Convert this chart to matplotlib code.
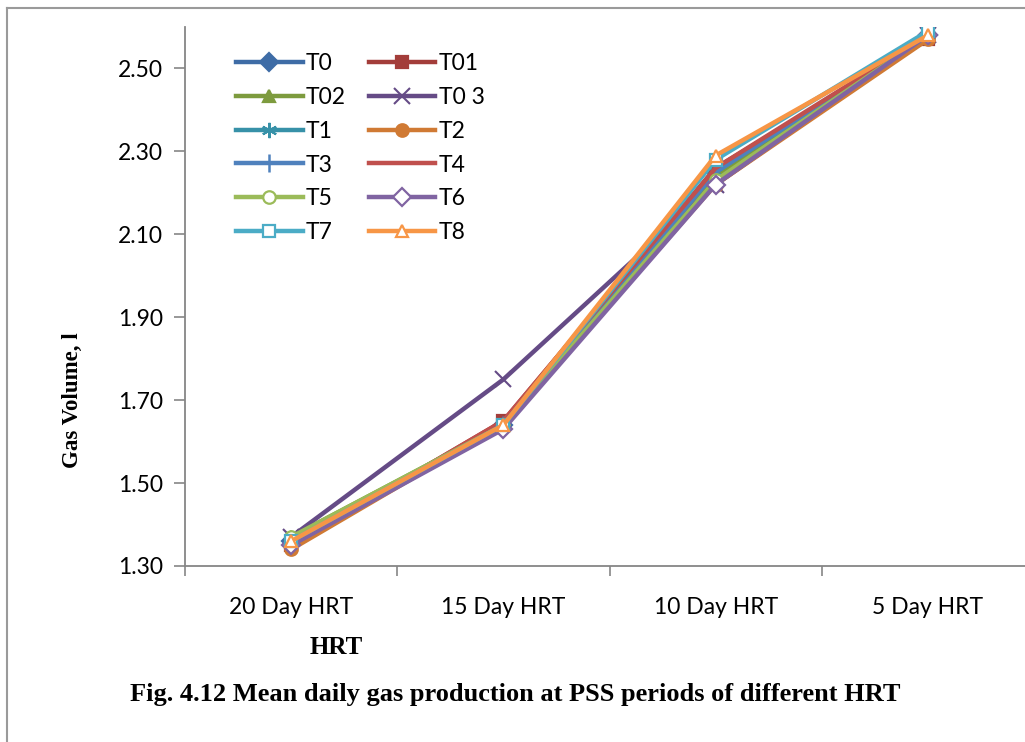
import numpy as np
import matplotlib.pyplot as plt
from matplotlib.lines import Line2D

# Data
categories = ["20 Day HRT", "15 Day HRT", "10 Day HRT", "5 Day HRT"]
series_names = ["T0", "T01", "T02", "T0 3", "T1", "T2", "T3", "T4", "T5", "T6", "T7", "T8"]

t0 = [1.36, 1.64, 2.25, 2.58]
t01 = [1.35, 1.65, 2.26, 2.57]
t02 = [1.37, 1.64, 2.24, 2.58]
t03 = [1.37, 1.75, 2.22, 2.58]
t1 = [1.36, 1.64, 2.25, 2.58]
t2 = [1.34, 1.64, 2.22, 2.57]
t3 = [1.36, 1.64, 2.25, 2.58]
t4 = [1.35, 1.65, 2.26, 2.58]
t5 = [1.37, 1.64, 2.23, 2.58]
t6 = [1.35, 1.63, 2.22, 2.58]
t7 = [1.36, 1.64, 2.28, 2.59]
t8 = [1.36, 1.64, 2.29, 2.58]
values = [t0, t01, t02, t03, t1, t2, t3, t4, t5, t6, t7, t8]

colors = ["#3E6CA6", "#A33D3A", "#7D9B3E", "#654B86", "#3791A8", "#D07A34",
          "#4F81BD", "#C0504D", "#9BBB59", "#8064A2", "#4BACC6", "#F79646"]
markers = ["D", "s", "^", "x", (6, 2, 0), "o", "|", "", "o", "D", "s", "^"]
hollow = [False, False, False, False, False, False, False, False, True, True, True, True]

fig = plt.figure(figsize=(10.25, 7.42), dpi=100)
ax = fig.add_axes([185 / 1025, 1 - 566 / 742, (1034 - 185) / 1025, (566 - 27) / 742])

x = np.arange(len(categories))
handles = []
for vals, name, c, m, h in zip(values, series_names, colors, markers, hollow):
    kw = dict(color=c, lw=3.2, marker=m if m != "" else None, ms=9, mew=1.6)
    if m == "x" or isinstance(m, tuple):
        kw.update(ms=11, mew=1.5)
    if m == "|":
        kw.update(ms=13, mew=1.8)
    if h:
        kw.update(mfc="white", mec=c)
    line, = ax.plot(x, vals, label=name, **kw)
    handles.append(line)

ax.set_xlim(-0.5, 3.5)
ax.set_ylim(1.30, 2.60)
yt = np.arange(1.30, 2.51, 0.20)
ax.set_yticks(yt)
ax.set_yticklabels([f"{v:.2f}" for v in yt])
ax.set_xticks(x)
ax.set_xticklabels(categories)
ax.set_xticks(np.arange(-0.5, 3.6, 1.0), minor=True)
ax.tick_params(axis="x", which="major", length=0, pad=22, labelsize=16.5)
ax.tick_params(axis="x", which="minor", length=7, color="#868686", width=1.2)
ax.tick_params(axis="y", length=8, color="#868686", width=1.2, pad=8, labelsize=16.5)
for lab in ax.get_xticklabels() + ax.get_yticklabels():
    lab.set_fontfamily("Lato")

for s in ["top", "right"]:
    ax.spines[s].set_visible(False)
for s in ["left", "bottom"]:
    ax.spines[s].set_color("#868686")
    ax.spines[s].set_linewidth(1.3)

# legend filled row by row: reorder for matplotlib's column-first layout
order = list(range(0, 12, 2)) + list(range(1, 12, 2))
leg = ax.legend([handles[i] for i in order], [series_names[i] for i in order],
                ncol=2, loc="upper left", bbox_to_anchor=(0.036, 0.99), frameon=False,
                prop={"family": "Lato", "size": 16.5}, handlelength=2.9,
                handletextpad=0.15, columnspacing=1.0, labelspacing=0.56)

fig.text(72 / 1025, 1 - 400 / 742, "Gas Volume, l", rotation=90, ha="center", va="center",
         fontsize=16.5, fontweight="bold", family="Liberation Serif")
fig.text(336 / 1025, 1 - 647 / 742, "HRT", ha="center", va="center",
         fontsize=18, fontweight="bold", family="Liberation Serif")
fig.text(515 / 1025, 1 - 695 / 742, "Fig. 4.12 Mean daily gas production at PSS periods of different HRT",
         ha="center", va="center", fontsize=19, fontweight="bold", family="Liberation Serif")

# frame of the chart area (left and top edges visible)
fig.add_artist(Line2D([7 / 1025, 7 / 1025], [0, 1 - 8 / 742], color="#9a9a9a", lw=1.5))
fig.add_artist(Line2D([7 / 1025, 1], [1 - 8 / 742, 1 - 8 / 742], color="#9a9a9a", lw=1.5))

fig.savefig("out.png", dpi=100)
